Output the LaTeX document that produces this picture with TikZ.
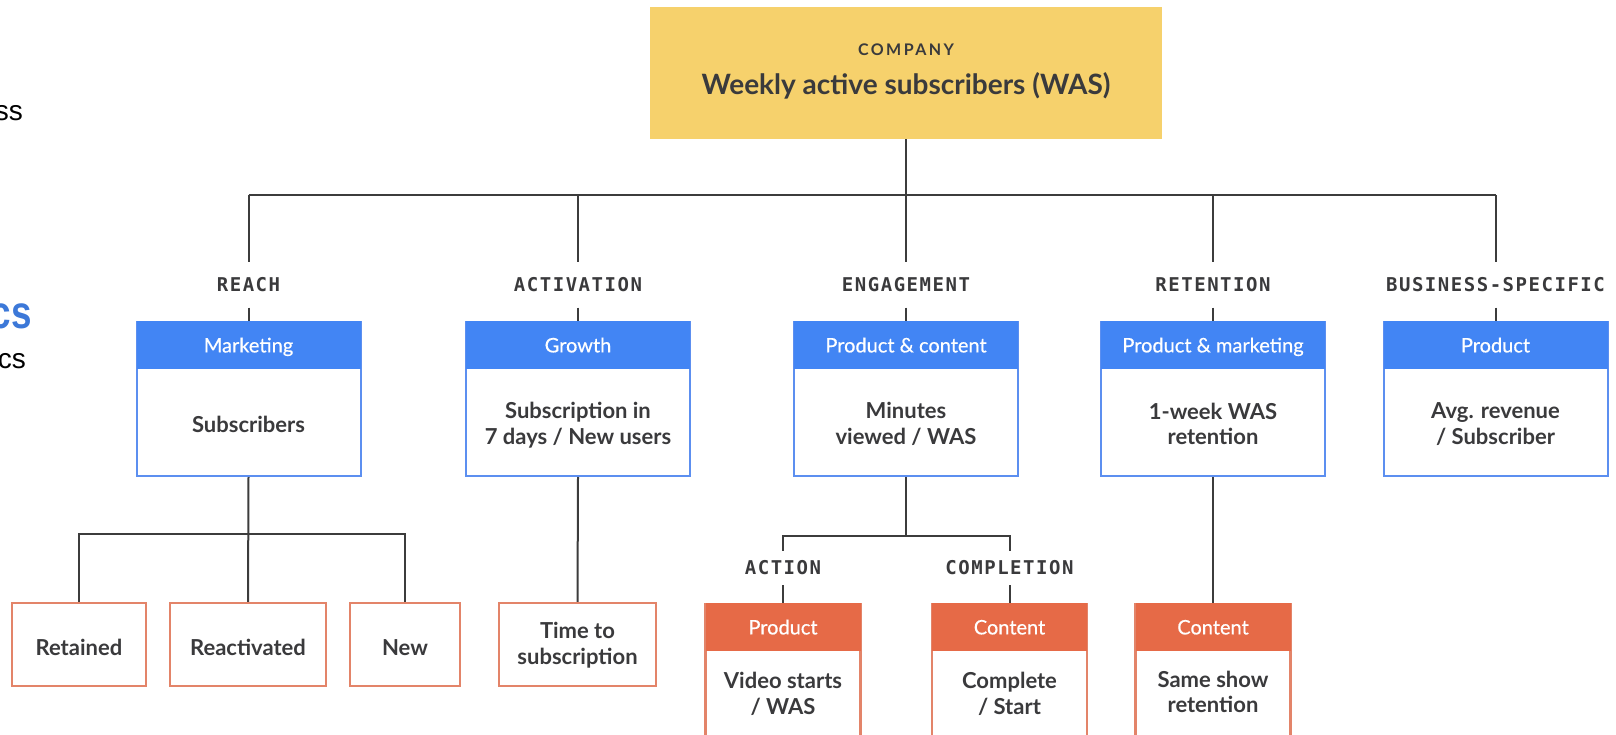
\documentclass[tikz,border=0pt]{standalone}
\usepackage{fontspec}
\setmainfont{Lato}
\newfontfamily\monolabel[LetterSpace=8]{DejaVu Sans Mono}
\newfontfamily\tracked[LetterSpace=15]{Lato}
\newfontfamily\headfont[FakeBold=0.5]{Lato}
\newfontfamily\slidefont{Liberation Sans}
\newfontfamily\slidehead[FakeStretch=0.8]{Liberation Sans}

\definecolor{ink}{HTML}{3A3A3C}
\definecolor{linec}{HTML}{3C3C3C}
\definecolor{gold}{HTML}{F6D16C}
\definecolor{bluefill}{HTML}{4285F4}
\definecolor{blueline}{HTML}{5C8FF0}
\definecolor{orangefill}{HTML}{E66A47}
\definecolor{orangeline}{HTML}{E38469}
\definecolor{slideblue}{HTML}{3C78D8}

\tikzset{
  conn/.style={draw=linec, line width=2pt},
  catlabel/.style={font=\monolabel\bfseries\fontsize{19}{22}\selectfont, text=ink,
    inner sep=0pt, minimum height=45pt},
  sublabel/.style={catlabel, minimum height=34pt},
  compbox/.style={fill=gold, minimum width=512pt, minimum height=132pt, inner sep=0pt},
  bluebox/.style={draw=blueline, line width=2pt, fill=white, minimum width=224pt,
    minimum height=154pt, inner sep=0pt},
  headtext/.style={inner sep=0pt, text=white, font=\headfont\fontsize{20}{24}\selectfont,
    text height=18pt, text depth=3.6pt, anchor=north},
  bluehead/.style={headtext, fill=bluefill, minimum width=224pt, minimum height=48pt},
  orangebox/.style={draw=orangeline, line width=2.5pt, fill=white, minimum height=83pt,
    inner sep=0pt},
  orangecard/.style={draw=orangeline, line width=2.5pt, fill=white, minimum width=155pt,
    minimum height=170pt, inner sep=0pt, anchor=north},
  orangehead/.style={headtext, fill=orangefill, minimum width=155pt, minimum height=48pt},
  bodytext/.style={font=\bfseries\fontsize{22}{25.5}\selectfont, text=ink, align=center,
    inner sep=0pt},
}

\begin{document}
\begin{tikzpicture}[x=1pt,y=-1pt]
\useasboundingbox (0,0) rectangle (1616,734);
\clip (0,0) rectangle (1616,734);

% fragments of the neighbouring slide text
\node[font=\slidefont\fontsize{28}{30}\selectfont, anchor=base east, inner sep=0pt] (fragA) at (23,120) {ss};
\node[font=\slidehead\bfseries\fontsize{46}{48}\selectfont, text=slideblue, anchor=base east, inner sep=0pt] (fragB) at (32,328) {cs};
\node[font=\slidefont\fontsize{28}{30}\selectfont, anchor=base east, inner sep=0pt] (fragC) at (26,368) {cs};

% company metric
\node[compbox] (comp) at (906,73) {};
\node[font=\tracked\bfseries\fontsize{16}{18}\selectfont, text=ink, anchor=base, inner sep=0pt] (compl) at (906,55) {COMPANY};
\node[font=\bfseries\fontsize{28}{31}\selectfont, text=ink, anchor=base, inner sep=0pt] (compt) at (906,94) {Weekly active subscribers (WAS)};

% category labels
\node[catlabel] (lreach) at (248.5,285) {REACH};
\node[catlabel] (lact)   at (578,285)   {ACTIVATION};
\node[catlabel] (leng)   at (906,285)   {ENGAGEMENT};
\node[catlabel] (lret)   at (1213,285)  {RETENTION};
\node[catlabel] (lbiz)   at (1495.5,285){BUSINESS-SPECIFIC};

% team metric boxes
\node[bluebox] (mkt) at (248.5,399) {};
\node[bluehead] (mkth) at (mkt.north) {Marketing};
\node[bodytext] (mktt) at (248.5,424) {Subscribers};

\node[bluebox] (gro) at (578,399) {};
\node[bluehead] (groh) at (gro.north) {Growth};
\node[bodytext] (grot) at (578,425) {Subscription in\\7 days / New users};

\node[bluebox] (pc) at (906,399) {};
\node[bluehead] (pch) at (pc.north) {Product \& content};
\node[bodytext] (pct) at (906,424) {Minutes\\viewed / WAS};

\node[bluebox] (pm) at (1213,399) {};
\node[bluehead] (pmh) at (pm.north) {Product \& marketing};
\node[bodytext] (pmt) at (1213,424) {1-week WAS\\retention};

\node[bluebox] (prd) at (1495.5,399) {};
\node[bluehead] (prdh) at (prd.north) {Product};
\node[bodytext] (prdt) at (1495.5,424) {Avg. revenue\\/ Subscriber};

% top-level tree
\draw[conn] (comp.south) -- ++(0,56) coordinate (bj);
\draw[conn] (lreach.north |- bj) -- (lbiz.north |- bj);
\foreach \l/\b in {lreach/mkt, lact/gro, leng/pc, lret/pm, lbiz/prd}{
  \draw[conn] (\l.north |- bj) -- (\l.north);
  \draw[conn] (\l.south) -- (\b.north);
}

% reach breakdown
\node[orangebox, minimum width=134pt] (ret) at (79,644.5) {};
\node[bodytext] (rett) at (79,647.5) {Retained};
\node[orangebox, minimum width=156pt] (rea) at (248,644.5) {};
\node[bodytext] (reat) at (248,647.5) {Reactivated};
\node[orangebox, minimum width=110pt] (new) at (405,644.5) {};
\node[bodytext] (newt) at (405,647.5) {New};
\draw[conn] (mkt.south) -- (rea.north);
\draw[conn] (ret.north) -- ++(0,-68) coordinate (rj) -| (new.north);

% activation breakdown
\node[orangebox, minimum width=157pt] (tts) at (577.5,644.5) {};
\node[bodytext] (ttst) at (577.5,645) {Time to\\subscription};
\draw[conn] (gro.south) -- (tts.north);

% engagement breakdown
\node[sublabel] (lacn) at (783,568)    {ACTION};
\node[sublabel] (lcmp) at (1009.5,568) {COMPLETION};
\node[orangecard] (vid) at (783,603) {};
\node[orangehead] (vidh) at (vid.north) {Product};
\node[bodytext] (vidt) at (783,694) {Video starts\\/ WAS};
\node[orangecard] (cmp) at (1009.5,603) {};
\node[orangehead] (cmph) at (cmp.north) {Content};
\node[bodytext] (cmpt) at (1009.5,694) {Complete\\/ Start};
\draw[conn] (pc.south) -- ++(0,59) coordinate (ej);
\draw[conn] (lacn.north) -- (lacn.north |- ej) -- (lcmp.north |- ej) -- (lcmp.north);
\draw[conn] (lacn.south) -- (vid.north);
\draw[conn] (lcmp.south) -- (cmp.north);

% retention breakdown
\node[orangecard] (shw) at (1213,603) {};
\node[orangehead] (shwh) at (shw.north) {Content};
\node[bodytext] (shwt) at (1213,692) {Same show\\retention};
\draw[conn] (pm.south) -- (shw.north);
\end{tikzpicture}
\end{document}
